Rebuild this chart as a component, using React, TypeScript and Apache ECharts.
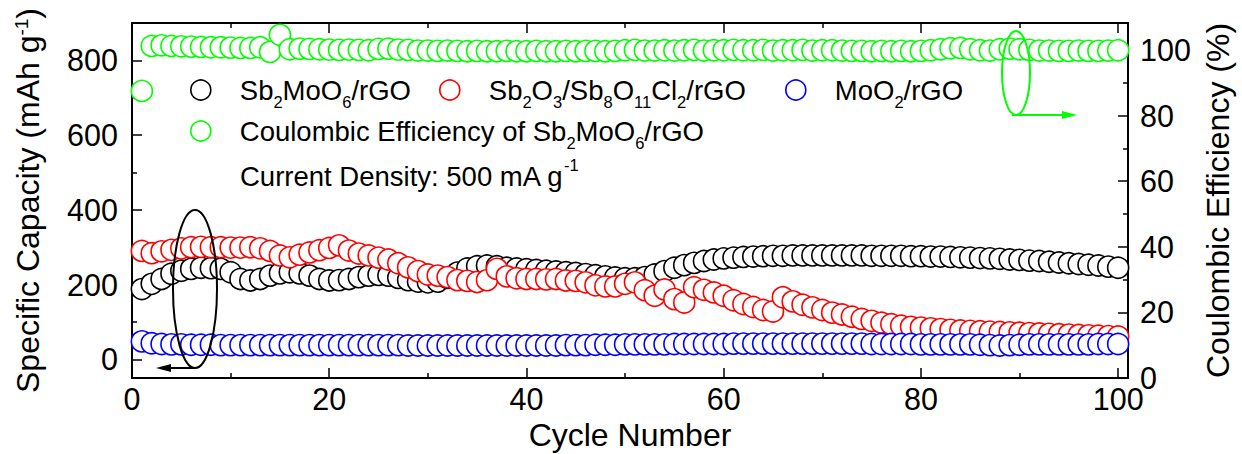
import React, { useEffect, useRef } from "react";
import * as echarts from "echarts";

const FONT = "'Liberation Sans', Arial, Helvetica, sans-serif";
const GREEN = "#00ff00";

const cycleNumbers = Array.from({ length: 100 }, (_, i) => i + 1);

const sb2moo6 = [
  188, 202, 215, 229, 237, 242, 245, 244, 242, 233,
  215, 211, 215, 224, 230, 233, 230, 224, 215, 211,
  212, 215, 220, 224, 226, 224, 218, 212, 208, 206,
  208, 218, 232, 243, 249, 251, 249, 245, 243, 241,
  239, 237, 235, 233, 231, 228, 225, 222, 219, 217,
  217, 220, 227, 236, 245, 252, 258, 263, 267, 270,
  272, 274, 275, 276, 277, 277, 278, 278, 278, 278,
  278, 278, 278, 278, 277, 277, 277, 277, 276, 276,
  275, 275, 274, 273, 272, 271, 270, 269, 267, 266,
  264, 263, 261, 259, 257, 255, 253, 251, 248, 245,
];

const sb2o3 = [
  290, 284, 289, 293, 297, 300, 301, 300, 300, 299,
  299, 300, 297, 290, 278, 273, 280, 286, 292, 298,
  305, 291, 283, 278, 272, 267, 257, 246, 236, 227,
  224, 220, 212, 210, 207, 212, 242, 222, 217, 215,
  215, 214, 215, 211, 210, 206, 198, 195, 195, 202,
  206, 185, 170, 187, 161, 152, 193, 186, 179, 170,
  158, 148, 140, 132, 128, 166, 155, 146, 139, 132,
  125, 120, 114, 108, 103, 98, 94, 90, 87, 85,
  83, 81, 79, 77, 76, 75, 74, 73, 72, 71,
  70, 69, 68, 67, 66, 65, 64, 63, 62, 61,
];

const moo2 = [
  48, 43, 41, 40, 40, 39, 39, 39, 38, 38,
  38, 38, 38, 38, 38, 38, 38, 38, 38, 38,
  38, 38, 38, 38, 38, 38, 38, 37, 37, 37,
  37, 37, 37, 37, 37, 37, 37, 37, 37, 37,
  37, 37, 37, 38, 38, 38, 39, 39, 39, 40,
  40, 40, 40, 40, 41, 41, 41, 41, 41, 41,
  42, 42, 42, 42, 42, 42, 42, 42, 42, 42,
  42, 42, 42, 42, 41, 41, 41, 41, 41, 40,
  40, 40, 40, 40, 40, 39, 38, 37, 38, 39,
  40, 40, 40, 40, 40, 40, 40, 41, 41, 41,
];

const coulombic = [
  87.5, 101.2, 101.4, 101.2, 101.1, 101.0, 100.9, 100.8, 100.8, 100.7,
  100.6, 100.6, 100.8, 99.4, 104.6, 100.2, 100.4, 100.3, 100.2, 100.1,
  100.0, 100.1, 100.0, 99.9, 100.3, 100.4, 100.1, 100.0, 99.8, 99.8,
  99.7, 99.8, 99.7, 99.6, 99.7, 99.6, 99.6, 99.7, 99.6, 99.6,
  99.7, 99.6, 99.6, 99.7, 99.6, 99.7, 99.7, 99.6, 99.7, 99.9,
  100.0, 99.8, 99.8, 99.9, 99.8, 99.9, 100.0, 99.8, 99.9, 99.9,
  100.0, 99.9, 99.9, 100.0, 99.8, 99.9, 99.9, 100.0, 99.8, 99.9,
  99.9, 99.8, 99.7, 99.7, 99.6, 99.7, 99.6, 99.7, 99.6, 99.7,
  99.9, 100.2, 100.5, 100.6, 100.2, 99.9, 99.8, 100.2, 100.4, 100.2,
  100.0, 99.8, 99.8, 99.7, 99.7, 99.8, 99.7, 99.7, 99.8, 99.9,
];

const xTicks = [0, 20, 40, 60, 80, 100];
const xMinorTicks = [10, 30, 50, 70, 90];
const capTicks = [0, 200, 400, 600, 800];
const capMinorTicks = [100, 300, 500, 700];
const ceTicks = [0, 20, 40, 60, 80, 100];
const ceMinorTicks = [10, 30, 50, 70, 90];

const seriesNames = [
  "Sb2MoO6/rGO",
  "Sb2O3/Sb8O11Cl2/rGO",
  "MoO2/rGO",
  "Coulombic Efficiency of Sb2MoO6/rGO",
];
const seriesColors = ["#000000", "#ff0000", "#0000ff", GREEN];

const legendRichLabels: Record<string, string> = {
  "Sb2MoO6/rGO": "{a|Sb}{s|2}{t|MoO}{s|6}{t|/rGO}",
  "Sb2O3/Sb8O11Cl2/rGO": "{a|Sb}{s|2}{t|O}{s|3}{t|/Sb}{s|8}{t|O}{s|11}{t|Cl}{s|2}{t|/rGO}",
  "MoO2/rGO": "{a|MoO}{s|2}{t|/rGO}",
  "Coulombic Efficiency of Sb2MoO6/rGO": "{a|Coulombic Efficiency of Sb}{s|2}{t|MoO}{s|6}{t|/rGO}",
};

const LFS = 27.5;
const legendRich = {
  a: { fontSize: LFS, fontFamily: FONT, color: "#000", lineHeight: 40, padding: [0, 0, 0, 23] },
  t: { fontSize: LFS, fontFamily: FONT, color: "#000", lineHeight: 40 },
  s: { fontSize: 16.5, fontFamily: FONT, color: "#000", lineHeight: 16, verticalAlign: "bottom" },
  p: { fontSize: 16.5, fontFamily: FONT, color: "#000", lineHeight: 19, verticalAlign: "top" },
};

const TFS = 30.5;
const NFS = 32;

function toPairs(vals: number[]) {
  return cycleNumbers.map((c, i) => [c, vals[i]]);
}

export default function App() {
  const ref = useRef<HTMLDivElement>(null);

  useEffect(() => {
    if (!ref.current) return;
    const chart = echarts.init(ref.current, undefined, { renderer: "svg" });

    const axisLine = { show: true, onZero: false, lineStyle: { color: "#000", width: 2 } };
    const noLine = { show: false, onZero: false };
    const tickStyle = { color: "#000", width: 1.5 };

    const mkLegend = (name: string, left: number, top: number, color: string) => ({
      show: true,
      left,
      top,
      padding: 0,
      orient: "horizontal",
      selectedMode: false,
      itemWidth: 22,
      itemHeight: 20,
      icon: "circle",
      itemStyle: { color: "#fff", borderColor: color, borderWidth: 1.6 },
      data: [{ name, icon: "circle", itemStyle: { color: "#fff", borderColor: color, borderWidth: 1.6 } }],
      formatter: (n: string) => legendRichLabels[n] || n,
      textStyle: { fontFamily: FONT, fontSize: LFS, color: "#000", rich: legendRich },
    });

    const option: any = {
      animation: false,
      backgroundColor: "#fff",
      grid: { left: 132, right: 114, top: 23, bottom: 76, containLabel: false, outerBoundsMode: "none" },
      legend: [
        mkLegend(seriesNames[0], 190, 76, seriesColors[0]),
        mkLegend(seriesNames[1], 439, 76, seriesColors[1]),
        mkLegend(seriesNames[2], 785, 76, seriesColors[2]),
        mkLegend(seriesNames[3], 190, 117, seriesColors[3]),
      ],
      xAxis: [
        {
          type: "value",
          position: "bottom",
          min: 0,
          max: 101,
          axisLine,
          splitLine: { show: false },
          axisTick: { show: true, inside: true, length: 10, customValues: xTicks, lineStyle: tickStyle },
          axisLabel: { show: true, customValues: xTicks, margin: 5, fontFamily: FONT, fontSize: TFS, color: "#000" },
          name: "Cycle Number",
          nameLocation: "middle",
          nameGap: 30,
          nameTextStyle: { fontFamily: FONT, fontSize: NFS, color: "#000" },
        },
        {
          type: "value",
          position: "bottom",
          min: 0,
          max: 101,
          axisLine: noLine,
          splitLine: { show: false },
          axisTick: { show: true, inside: true, length: 5, customValues: xMinorTicks, lineStyle: tickStyle },
          axisLabel: { show: false },
        },
        {
          type: "value",
          position: "top",
          min: 0,
          max: 101,
          axisLine,
          splitLine: { show: false },
          axisTick: { show: true, inside: true, length: 10, customValues: xTicks, lineStyle: tickStyle },
          axisLabel: { show: false },
        },
        {
          type: "value",
          position: "top",
          min: 0,
          max: 101,
          axisLine: noLine,
          splitLine: { show: false },
          axisTick: { show: true, inside: true, length: 5, customValues: xMinorTicks, lineStyle: tickStyle },
          axisLabel: { show: false },
        },
      ],
      yAxis: [
        {
          type: "value",
          position: "left",
          min: -50,
          max: 900,
          axisLine,
          splitLine: { show: false },
          axisTick: { show: true, inside: true, length: 10, customValues: capTicks, lineStyle: tickStyle },
          axisLabel: { show: true, customValues: capTicks, margin: 14, fontFamily: FONT, fontSize: TFS, color: "#000" },
          name: "Specific Capacity (mAh g{p|-1})",
          nameLocation: "middle",
          nameGap: 88,
          nameTextStyle: {
            fontFamily: FONT,
            fontSize: NFS,
            color: "#000",
            rich: {
              p: { fontFamily: FONT, fontSize: 19, color: "#000", lineHeight: 20, verticalAlign: "top" },
            },
          },
        },
        {
          type: "value",
          position: "left",
          min: -50,
          max: 900,
          axisLine: noLine,
          splitLine: { show: false },
          axisTick: { show: true, inside: true, length: 5, customValues: capMinorTicks, lineStyle: tickStyle },
          axisLabel: { show: false },
        },
        {
          type: "value",
          position: "right",
          min: 0,
          max: 108.2,
          axisLine,
          splitLine: { show: false },
          axisTick: { show: true, inside: true, length: 10, customValues: ceTicks, lineStyle: tickStyle },
          axisLabel: { show: true, customValues: ceTicks, margin: 12, fontFamily: FONT, fontSize: TFS, color: "#000" },
          name: "Coulombic Efficiency (%)",
          nameLocation: "middle",
          nameGap: 73,
          nameTextStyle: { fontFamily: FONT, fontSize: NFS, color: "#000" },
        },
        {
          type: "value",
          position: "right",
          min: 0,
          max: 108.2,
          axisLine: noLine,
          splitLine: { show: false },
          axisTick: { show: true, inside: true, length: 5, customValues: ceMinorTicks, lineStyle: tickStyle },
          axisLabel: { show: false },
        },
      ],
      series: [
        { name: seriesNames[0], data: toPairs(sb2moo6), yAxisIndex: 0, color: seriesColors[0] },
        { name: seriesNames[1], data: toPairs(sb2o3), yAxisIndex: 0, color: seriesColors[1] },
        { name: seriesNames[2], data: toPairs(moo2), yAxisIndex: 0, color: seriesColors[2] },
        { name: seriesNames[3], data: toPairs(coulombic), yAxisIndex: 2, color: seriesColors[3] },
      ].map((s) => ({
        type: "scatter",
        name: s.name,
        xAxisIndex: 0,
        yAxisIndex: s.yAxisIndex,
        data: s.data,
        symbol: "circle",
        symbolSize: 21,
        itemStyle: { color: "#fff", borderColor: s.color, borderWidth: 1.6, opacity: 1 },
        emphasis: { disabled: true },
        z: 2,
      })),
      graphic: [
        {
          type: "ellipse",
          z: 100,
          shape: { cx: 195, cy: 289, rx: 22, ry: 79 },
          style: { fill: "none", stroke: "#000", lineWidth: 2 },
        },
        {
          type: "line",
          z: 100,
          shape: { x1: 195, y1: 368, x2: 166, y2: 368 },
          style: { stroke: "#000", lineWidth: 2 },
        },
        {
          type: "polygon",
          z: 100,
          shape: { points: [[156, 368], [171, 364], [171, 372]] },
          style: { fill: "#000" },
        },
        {
          type: "ellipse",
          z: 100,
          shape: { cx: 1016, cy: 73, rx: 14, ry: 42 },
          style: { fill: "none", stroke: GREEN, lineWidth: 2 },
        },
        {
          type: "line",
          z: 100,
          shape: { x1: 1012, y1: 115, x2: 1066, y2: 115 },
          style: { stroke: GREEN, lineWidth: 2 },
        },
        {
          type: "polygon",
          z: 100,
          shape: { points: [[1077, 115], [1062, 111], [1062, 119]] },
          style: { fill: GREEN },
        },
        {
          type: "text",
          z: 100,
          x: 217,
          y: 156,
          style: {
            text: "{a|Current Density: 500 mA g}{p|-1}",
            rich: legendRich,
            verticalAlign: "top",
            align: "left",
          },
        },
      ],
    };

    chart.setOption(option);
    return () => chart.dispose();
  }, []);

  return (
    <div
      ref={ref}
      style={{ position: "fixed", left: 0, top: 0, width: 1242, height: 454, background: "#fff" }}
    />
  );
}
